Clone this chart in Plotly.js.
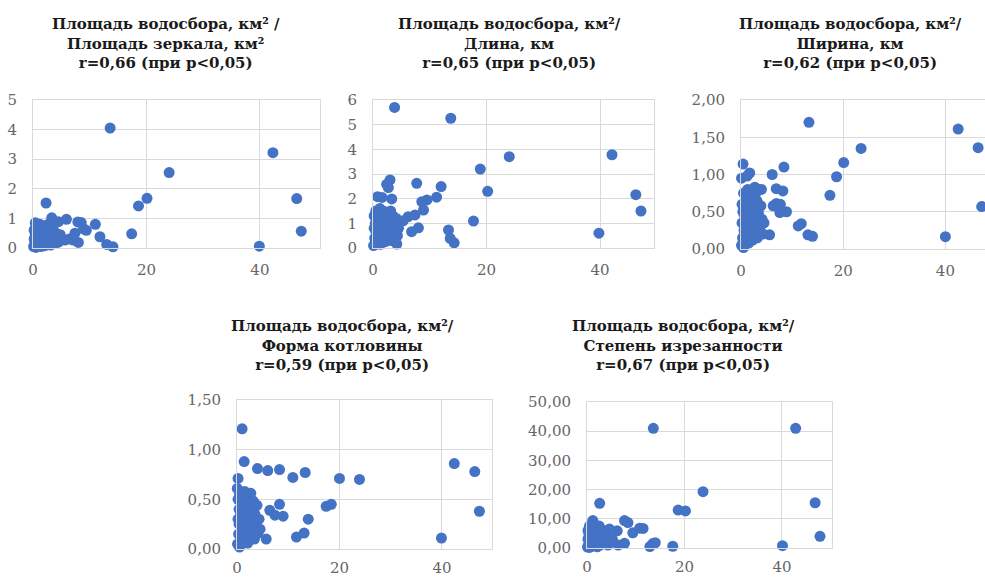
<!DOCTYPE html>
<html>
<head>
<meta charset="utf-8">
<script src="https://cdn.plot.ly/plotly-3.0.1.min.js"></script>
<style>
html,body{margin:0;padding:0;background:#fff;overflow:hidden;}
#chart{width:985px;height:578px;}
</style>
</head>
<body>
<div id="chart"></div>
<script>
// Shared catchment area values for the dense cluster near zero (km²)
const clusterArea = [0.1,0.2,0.2,0.3,0.4,0.5,0.5,0.6,0.7,0.8,0.9,1.0,1.1,1.2,1.3,1.4,1.5,1.6,1.7,1.8,1.9,2.0,2.1,2.2,2.3,2.5,2.6,2.7,2.8,3.0,3.1,3.2,3.4,3.5,3.7,3.9,4.1,4.3,4.5,0.4];

// Plot 1: Площадь зеркала
const mirrorCluster = [0.05,0.3,0.6,0.15,0.45,0.02,0.7,0.25,0.55,0.1,0.4,0.65,0.2,0.8,0.35,0.05,0.5,0.28,0.75,0.12,0.6,0.42,0.08,0.68,0.3,0.5,0.18,0.8,0.38,0.6,0.1,0.45,0.25,0.7,0.35,0.15,0.5,0.3,0.2,0.85];
const mirrorArea = [2.3,3.3,4.5,5.6,5.9,6.4,7.1,7.4,7.9,8.5,8.9,9.4,11.0,11.8,13.0,14.1,17.4,18.6,20.1,24.0,13.6,42.3,46.5,47.3,39.9,8.0,4.8];
const mirrorVal = [1.52,1.02,0.89,0.27,0.97,0.30,0.27,0.50,0.88,0.86,0.65,0.60,0.80,0.38,0.12,0.04,0.48,1.42,1.68,2.55,4.05,3.22,1.67,0.57,0.06,0.19,0.45];

// Plot 2: Длина
const lengthCluster = [0.1,0.8,1.3,0.4,1.0,0.2,1.5,0.6,1.2,0.3,0.9,1.4,0.5,1.6,0.15,1.1,0.7,1.3,0.35,1.5,0.8,1.0,0.25,1.2,0.6,0.9,1.4,0.45,1.1,0.7,1.5,0.3,1.0,1.3,0.6,0.9,1.2,0.5,0.8,0.2];
const lengthArea = [3.8,13.7,18.9,3.0,2.4,7.7,12.0,0.8,3.3,11.2,9.5,8.6,8.9,7.4,6.2,17.7,8.0,6.8,13.3,13.6,14.3,4.2,24.0,20.2,42.1,46.3,47.2,39.8,1.6,2.7,5.3];
const lengthVal = [5.70,5.26,3.20,2.76,2.58,2.62,2.49,2.08,1.99,2.06,1.95,1.88,1.54,1.34,1.27,1.09,0.82,0.66,0.73,0.39,0.21,0.16,3.70,2.30,3.78,2.16,1.50,0.60,2.05,2.45,1.10];

// Plot 3: Ширина
const widthCluster = [0.05,0.35,0.6,0.15,0.5,0.02,0.75,0.25,0.45,0.1,0.65,0.3,0.55,0.2,0.8,0.4,0.08,0.6,0.33,0.7,0.18,0.5,0.28,0.62,0.12,0.42,0.72,0.22,0.55,0.36,0.65,0.15,0.48,0.8,0.26,0.58,0.4,0.2,0.35,0.5];
const widthArea = [0.4,0.1,1.7,2.7,4.0,8.4,6.1,6.9,8.2,6.9,7.7,6.3,8.9,7.6,11.2,11.8,13.1,14.0,5.6,13.3,23.5,20.1,18.7,17.4,42.5,46.4,47.1,40.0,1.2,3.3];
const widthVal = [1.14,0.95,1.02,0.83,0.80,1.10,1.00,0.81,0.78,0.61,0.60,0.58,0.50,0.49,0.31,0.34,0.19,0.17,0.19,1.70,1.35,1.16,0.97,0.72,1.61,1.36,0.57,0.165,0.98,0.78];

// Plot 4: Форма котловины
const shapeCluster = [0.05,0.3,0.5,0.15,0.4,0.02,0.55,0.25,0.35,0.1,0.45,0.2,0.5,0.08,0.38,0.28,0.58,0.12,0.42,0.22,0.32,0.52,0.06,0.36,0.18,0.46,0.27,0.56,0.14,0.4,0.3,0.48,0.1,0.35,0.22,0.44,0.16,0.3,0.2,0.25];
const shapeArea = [1.0,1.4,4.0,6.0,8.3,10.9,13.3,0.2,0.05,8.3,6.4,7.4,9.0,13.9,17.4,18.4,11.6,13.1,5.7,20.0,23.9,42.4,46.4,47.3,39.9];
const shapeVal = [1.21,0.88,0.81,0.79,0.80,0.72,0.77,0.71,0.61,0.45,0.39,0.34,0.33,0.30,0.43,0.45,0.12,0.16,0.10,0.71,0.70,0.86,0.78,0.38,0.11];

// Plot 5: Степень изрезанности
const indentCluster = [0.3,3.0,6.0,1.0,4.5,0.2,7.5,2.0,5.0,0.5,3.5,6.5,1.5,8.0,2.5,0.8,5.5,3.0,7.0,1.2,4.0,6.0,0.4,5.0,2.2,7.5,3.5,1.0,6.5,4.0,2.8,5.5,1.5,4.5,3.0,2.0,3.5,1.0,2.5,0.6];
const indentArea = [2.6,1.2,23.8,18.7,20.2,7.7,8.4,11.5,10.8,9.4,6.2,7.7,6.4,12.9,13.5,14.0,17.6,13.6,42.8,46.8,47.8,40.1,5.2,4.6];
const indentVal = [15.3,9.4,19.3,13.0,12.7,9.4,8.7,6.7,6.8,5.2,5.9,1.6,1.0,0.5,1.5,1.8,0.6,41.0,41.0,15.5,4.0,0.8,3.0,6.5];

const titles = [
  'Площадь водосбора, км² /<br>Площадь зеркала, км²<br>r=0,66 (при p&lt;0,05)',
  'Площадь водосбора, км²/<br>Длина, км<br>r=0,65 (при p&lt;0,05)',
  'Площадь водосбора, км²/<br>Ширина, км<br>r=0,62 (при p&lt;0,05)',
  'Площадь водосбора, км²/<br>Форма котловины<br>r=0,59 (при p&lt;0,05)',
  'Площадь водосбора, км²/<br>Степень изрезанности<br>r=0,67 (при p&lt;0,05)'
];

const W = 985, H = 578;
const px = v => v / W;
const py = v => 1 - v / H;

const series = [
  {cy: mirrorCluster, ex: mirrorArea, ey: mirrorVal},
  {cy: lengthCluster, ex: lengthArea, ey: lengthVal},
  {cy: widthCluster, ex: widthArea, ey: widthVal},
  {cy: shapeCluster, ex: shapeArea, ey: shapeVal},
  {cy: indentCluster, ex: indentArea, ey: indentVal}
];

const geo = [
  {l:33, r:320, t:100, b:248, xmax:50.6, ymax:5, dy:1, fmt:'d', tx:166, ty:13, xs:8},
  {l:373, r:654, t:100, b:248, xmax:49.5, ymax:6, dy:1, fmt:'d', tx:509, ty:13, xs:8},
  {l:741, r:985, t:100, b:249, xmax:47.75, ymax:2, dy:0.5, fmt:'.2f', tx:850, ty:13, xs:8},
  {l:237, r:492, t:400, b:549, xmax:49.76, ymax:1.5, dy:0.5, fmt:'.2f', tx:342, ty:315, xs:5},
  {l:587, r:832, t:402, b:548, xmax:50.26, ymax:50, dy:10, fmt:'.2f', tx:683, ty:315, xs:5}
];

const tickFont = {family:'DejaVu Serif', size:15, color:'#666666'};
const gridC = '#d9d9d9';
const traces = [];
const layout = {
  width: W, height: H,
  margin: {l:0, r:0, t:0, b:0},
  paper_bgcolor: '#ffffff',
  plot_bgcolor: '#ffffff',
  showlegend: false,
  separators: ', ',
  annotations: []
};

series.forEach((s, i) => {
  const n = i + 1;
  const g = geo[i];
  const sfx = n === 1 ? '' : String(n);
  traces.push({
    type: 'scatter', mode: 'markers',
    x: clusterArea.concat(s.ex),
    y: s.cy.concat(s.ey),
    xaxis: 'x' + sfx,
    yaxis: 'y' + sfx,
    marker: {color: '#4472c4', size: 11, line: {width: 0}},
    cliponaxis: false,
    hoverinfo: 'skip'
  });
  layout['xaxis' + sfx] = {
    domain: [px(g.l), px(g.r)],
    anchor: 'y' + sfx,
    range: [0, g.xmax],
    tickvals: [0, 20, 40],
    showgrid: true, gridcolor: gridC, gridwidth: 1,
    zeroline: false,
    showline: true, mirror: true, linecolor: gridC, linewidth: 1,
    ticks: '', ticklabelstandoff: g.xs,
    tickfont: tickFont,
    fixedrange: true
  };
  layout['yaxis' + sfx] = {
    domain: [py(g.b), py(g.t)],
    anchor: 'x' + sfx,
    range: [0, g.ymax],
    dtick: g.dy, tick0: 0,
    tickformat: g.fmt,
    showgrid: true, gridcolor: gridC, gridwidth: 1,
    zeroline: false,
    showline: true, mirror: true, linecolor: gridC, linewidth: 1,
    ticks: '', ticklabelstandoff: 12,
    tickfont: tickFont,
    fixedrange: true
  };
  layout.annotations.push({
    xref: 'paper', yref: 'paper',
    x: px(g.tx), y: py(g.ty),
    xanchor: 'center', yanchor: 'top',
    showarrow: false, align: 'center',
    text: '<b>' + titles[i].split('<br>').join('</b><br><b>') + '</b>',
    font: {family: 'DejaVu Serif', size: 15, color: '#1a1a1a'}
  });
});

Plotly.newPlot('chart', traces, layout, {staticPlot: true, displayModeBar: false});
</script>
</body>
</html>
